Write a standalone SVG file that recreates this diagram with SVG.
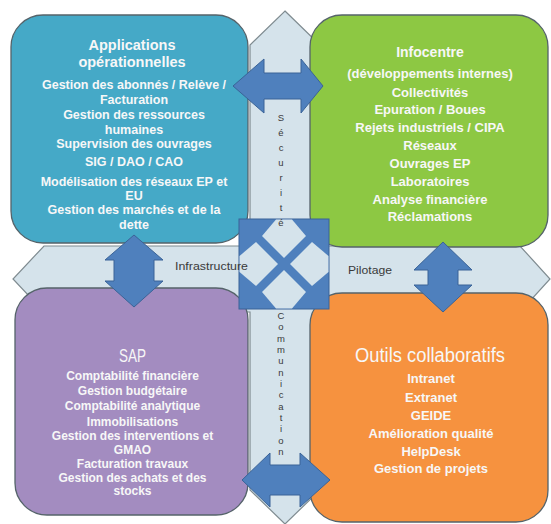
<svg xmlns="http://www.w3.org/2000/svg" width="551" height="524" viewBox="0 0 551 524">
<defs>
<style>
.box{stroke:#55636a;stroke-width:1.3}
.arr{fill:#4f80bd;stroke:#3a6397;stroke-width:1}
.t{font-family:"Liberation Sans",Arial,sans-serif;font-weight:bold;fill:#f7f7f7;text-anchor:middle;font-size:13px}
.tb{font-size:12.5px}
.tp{font-size:12px}
.h{font-size:14.5px}
.c{font-family:"Liberation Sans",Arial,sans-serif;fill:#f7f7f7;text-anchor:middle}
.lab{font-family:"Liberation Sans",Arial,sans-serif;fill:#3a3a3a;font-size:11px}
.v{font-family:"Liberation Sans",Arial,sans-serif;fill:#3a3a3a;font-size:9.5px;text-anchor:middle}
</style>
</defs>
<rect width="551" height="524" fill="#ffffff"/>
<g id="background-cross">
<path d="M285,11 L320,45 L320,246 L520,246 L550,279 L520,312 L320,312 L320,490 L285,524 L250,490 L250,312 L44,312 L13,279 L44,246 L250,246 L250,45 Z" fill="#d5e3eb" stroke="#7f8b90" stroke-width="1.2"/>
</g>
<g id="node-applications">
<rect class="box" x="11" y="15" width="237" height="228" rx="32" fill="#45a9c7"/>
<text class="t h" x="132" y="50">Applications</text>
<text class="t h" x="132" y="67">opérationnelles</text>
<text class="t tb" x="134" y="89">Gestion des abonnés / Relève /</text>
<text class="t tb" x="134" y="103.5">Facturation</text>
<text class="t tb" x="134" y="119">Gestion des ressources</text>
<text class="t tb" x="134" y="133.5">humaines</text>
<text class="t tb" x="134" y="148">Supervision des ouvrages</text>
<text class="t tb" x="134" y="166">SIG / DAO / CAO</text>
<text class="t tb" x="134" y="185.5">Modélisation des réseaux EP et</text>
<text class="t tb" x="134" y="200">EU</text>
<text class="t tb" x="134" y="214">Gestion des marchés et de la</text>
<text class="t tb" x="134" y="228.5">dette</text>
</g>
<g id="node-infocentre">
<rect class="box" x="310" y="15" width="238" height="232" rx="32" fill="#8dc843"/>
<text class="t" x="430" y="57" style="font-size:14px">Infocentre</text>
<text class="t" x="430" y="77.5">(développements internes)</text>
<text class="t" x="430" y="96.5">Collectivités</text>
<text class="t" x="430" y="113.5">Epuration / Boues</text>
<text class="t" x="430" y="131.5">Rejets industriels / CIPA</text>
<text class="t" x="430" y="149.5">Réseaux</text>
<text class="t" x="430" y="167.5">Ouvrages EP</text>
<text class="t" x="430" y="185.5">Laboratoires</text>
<text class="t" x="430" y="203.5">Analyse financière</text>
<text class="t" x="430" y="220.5">Réclamations</text>
</g>
<g id="node-sap">
<rect class="box" x="15" y="288" width="233" height="227" rx="32" fill="#a38cc0"/>
<text class="c" x="132.5" y="362" style="font-size:19px" textLength="27" lengthAdjust="spacingAndGlyphs">SAP</text>
<text class="t tp" x="132.5" y="379.5">Comptabilité financière</text>
<text class="t tp" x="132.5" y="394.5">Gestion budgétaire</text>
<text class="t tp" x="132.5" y="410">Comptabilité analytique</text>
<text class="t tp" x="132.5" y="425.5">Immobilisations</text>
<text class="t tp" x="132.5" y="440">Gestion des interventions et</text>
<text class="t tp" x="132.5" y="453.5">GMAO</text>
<text class="t tp" x="132.5" y="467.5">Facturation travaux</text>
<text class="t tp" x="132.5" y="481.5">Gestion des achats et des</text>
<text class="t tp" x="132.5" y="495">stocks</text>
</g>
<g id="node-outils">
<rect class="box" x="310" y="293" width="238" height="229" rx="32" fill="#f6923f"/>
<text class="c" x="430" y="362" style="font-size:20px" textLength="150" lengthAdjust="spacingAndGlyphs">Outils collaboratifs</text>
<text class="t" x="431" y="382.5">Intranet</text>
<text class="t" x="431" y="401.5">Extranet</text>
<text class="t" x="431" y="419.5">GEIDE</text>
<text class="t" x="431" y="437.5">Amélioration qualité</text>
<text class="t" x="431" y="455.5">HelpDesk</text>
<text class="t" x="431" y="472.5">Gestion de projets</text>
</g>
<g id="connectors">
<path class="arr" d="M233,86 L264,59 L264,73 L301,73 L301,59 L323,86 L301,113 L301,99 L264,99 L264,113 Z"/>
<path class="arr" d="M134,235 L163,260 L154,260 L154,281 L163,281 L134,307 L105,281 L114,281 L114,260 L105,260 Z"/>
<path class="arr" d="M443,242 L472,270 L458,270 L458,285 L472,285 L443,312 L414,285 L428,285 L428,270 L414,270 Z"/>
<path class="arr" d="M242,480 L270,453 L270,465 L300,465 L300,453 L330,480 L300,507 L300,495 L270,495 L270,507 Z"/>
<g id="center-arrow">
<rect x="239" y="219" width="90" height="90" fill="#4f80bd" stroke="#3a6397" stroke-width="1"/>
<path d="M284,258 L262,236 L276,219.5 L292,219.5 L306,236 Z" fill="#d5e3eb"/>
<path d="M284,258 L262,236 L276,219.5 L292,219.5 L306,236 Z" fill="#d5e3eb" transform="rotate(90 284 264)"/>
<path d="M284,258 L262,236 L276,219.5 L292,219.5 L306,236 Z" fill="#d5e3eb" transform="rotate(180 284 264)"/>
<path d="M284,258 L262,236 L276,219.5 L292,219.5 L306,236 Z" fill="#d5e3eb" transform="rotate(270 284 264)"/>
</g>
</g>
<g id="labels">
<text class="lab" x="175" y="269.5" textLength="73" lengthAdjust="spacingAndGlyphs">Infrastructure</text>
<text class="lab" x="348" y="274" textLength="44" lengthAdjust="spacingAndGlyphs">Pilotage</text>
<text class="v"><tspan x="281" y="120.5">S</tspan><tspan x="281" y="135.5">é</tspan><tspan x="281" y="150.5">c</tspan><tspan x="281" y="165.5">u</tspan><tspan x="281" y="180.5">r</tspan><tspan x="281" y="195.5">i</tspan><tspan x="281" y="210.5">t</tspan><tspan x="281" y="225.5">é</tspan></text>
<text class="v"><tspan x="281" y="319">C</tspan><tspan x="281" y="330.3">o</tspan><tspan x="281" y="341.7">m</tspan><tspan x="281" y="353">m</tspan><tspan x="281" y="364.3">u</tspan><tspan x="281" y="375.7">n</tspan><tspan x="281" y="387">i</tspan><tspan x="281" y="398.3">c</tspan><tspan x="281" y="409.7">a</tspan><tspan x="281" y="421">t</tspan><tspan x="281" y="432.3">i</tspan><tspan x="281" y="443.7">o</tspan><tspan x="281" y="455">n</tspan></text>
</g>
</svg>
